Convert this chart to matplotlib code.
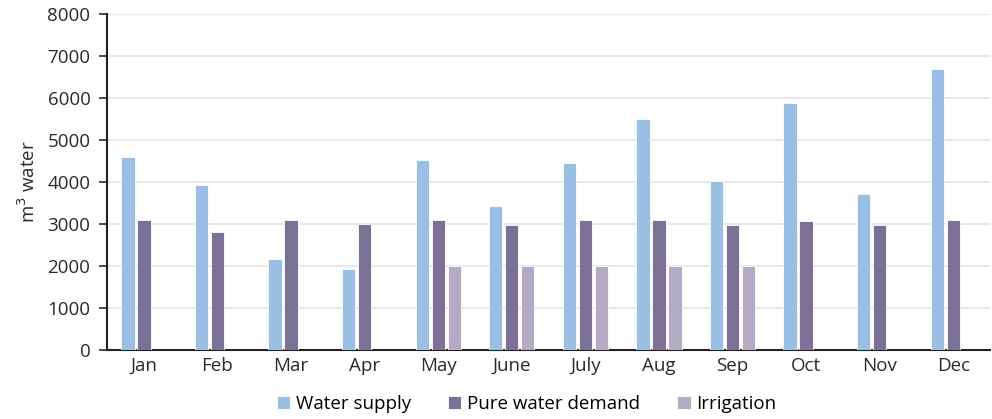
import numpy as np
import matplotlib
matplotlib.use("Agg")
import matplotlib.pyplot as plt

plt.rcParams['font.family'] = ['Open Sans', 'DejaVu Sans']

# monthly water balance (m3)
months = ['Jan', 'Feb', 'Mar', 'Apr', 'May', 'June', 'July', 'Aug', 'Sep', 'Oct', 'Nov', 'Dec']
water_supply = [4600, 3920, 2170, 1930, 4520, 3430, 4450, 5500, 4030, 5880, 3720, 6680]
pure_demand = [3100, 2800, 3100, 3000, 3080, 2980, 3080, 3080, 2980, 3070, 2980, 3080]
irrigation = [0, 0, 0, 0, 2000, 2000, 2000, 2000, 2000, 0, 0, 0]

series = [('Water supply', water_supply, '#9bbfe4'),
          ('Pure water demand', pure_demand, '#7b7095'),
          ('Irrigation', irrigation, '#b3aac4')]

fig = plt.figure(figsize=(9.92, 4.19), dpi=100)
ax = fig.add_axes([0.108, 0.165, 0.89, 0.802])

x = np.arange(len(months))
step = 0.217
width = 0.18
for i, (name, vals, col) in enumerate(series):
    ax.bar(x + (i - 1) * step, vals, width, color=col, label=name,
           edgecolor='white', linewidth=0.6, zorder=3)

txt = '#2a2a2a'
fs = 13.5
ax.set_xlim(-0.5, len(months) - 0.5)
ax.set_ylim(0, 8000)
ax.set_yticks(range(0, 8001, 1000))
ax.set_xticks(x)
ax.set_xticklabels(months)
ax.tick_params(axis='x', length=0, labelsize=fs, pad=5, colors=txt)
ax.tick_params(axis='y', length=6, width=1.2, labelsize=fs, colors=txt, pad=6, direction='out')
ax.grid(axis='y', color='#e4e4e4', linewidth=1.2, zorder=0)
for s in ['top', 'right']:
    ax.spines[s].set_visible(False)
for s in ['left', 'bottom']:
    ax.spines[s].set_color('#222222')
    ax.spines[s].set_linewidth(1.5)
ax.set_ylabel('m$^3$ water', fontsize=fs, color=txt, labelpad=6)

ax.legend(loc='upper center', bbox_to_anchor=(0.475, -0.085), ncol=3, frameon=False,
          fontsize=fs, handlelength=0.7, handleheight=0.7, handletextpad=0.3,
          columnspacing=2.0)

fig.savefig('out.png', dpi=100)
